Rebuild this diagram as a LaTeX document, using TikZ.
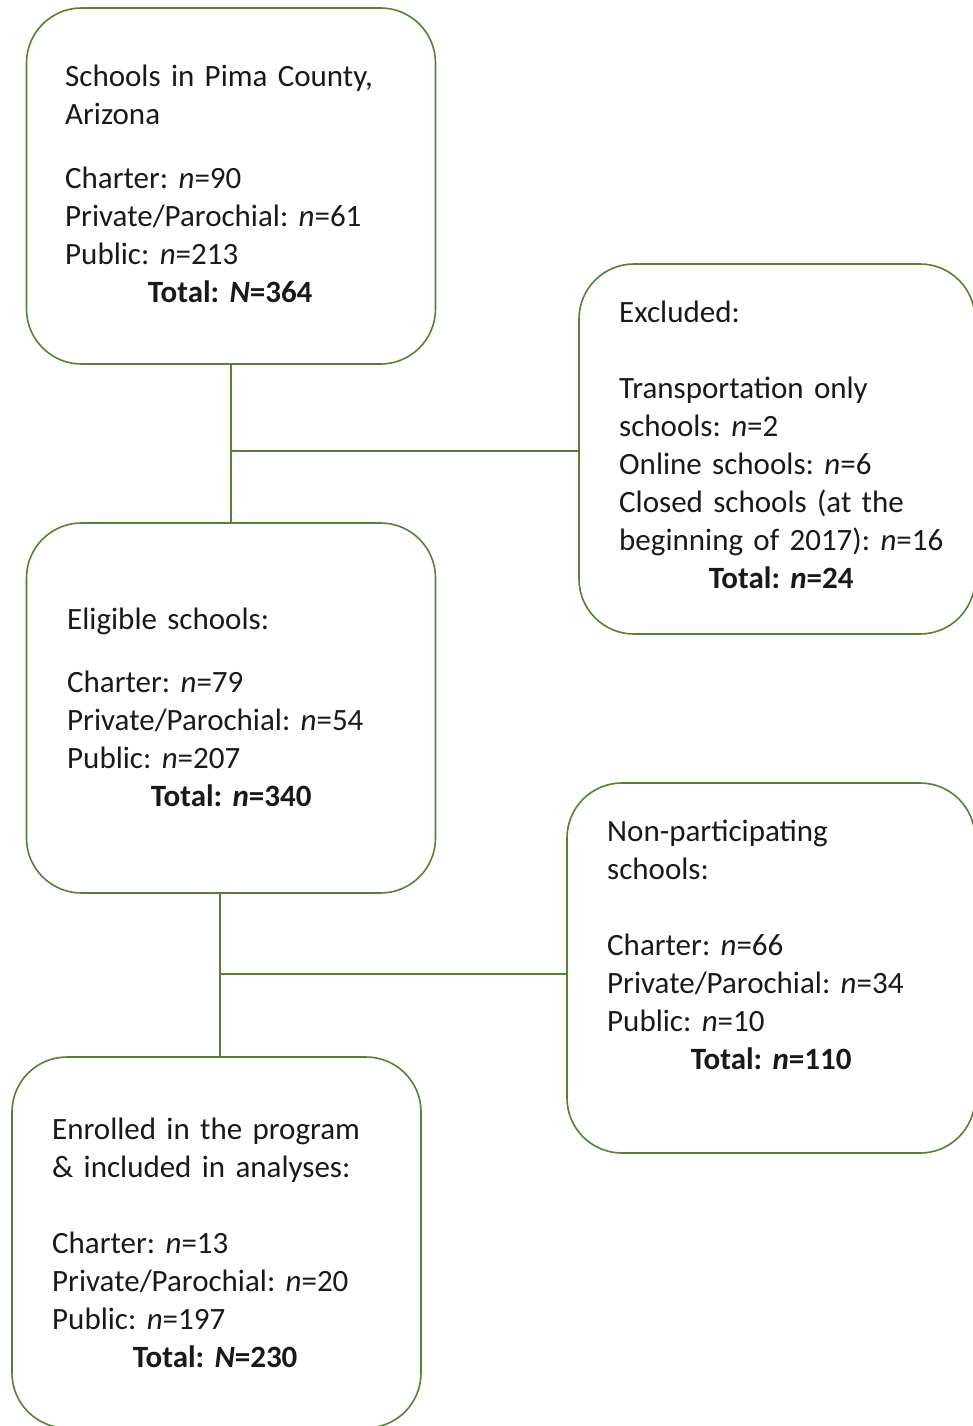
\documentclass[tikz,border=0pt]{standalone}
\usepackage{fontspec}
\setmainfont{Carlito}
\frenchspacing
\definecolor{boxgreen}{RGB}{84,130,53}
\definecolor{txt}{RGB}{25,25,25}
\newcommand\myboxfont{\fontsize{31}{38}\selectfont\frenchspacing\spaceskip=5.6pt\relax}
\begin{document}
\begin{tikzpicture}[x=1pt,y=-1pt,
  box/.style={draw=boxgreen, line width=1.6pt, rounded corners=55pt, inner sep=0pt},
  txtblock/.style={anchor=base west, inner sep=0pt, align=left, text=txt,
    font=\myboxfont},
  link/.style={draw=boxgreen, line width=1.8pt}]
\useasboundingbox (0,0) rectangle (973,1426);

\node[box, minimum width=409pt, minimum height=356pt] (b1) at (231,186) {};
\node[box, minimum width=396pt, minimum height=370pt] (b2) at (777,449) {};
\node[box, minimum width=409pt, minimum height=370pt] (b3) at (231,708) {};
\node[box, minimum width=408pt, minimum height=370pt] (b4) at (771,968) {};
\node[box, minimum width=409pt, minimum height=371pt] (b5) at (216.5,1242.5) {};

\node[txtblock, text width=330pt] (t1) at (65,87) {Schools in Pima County,\\ Arizona\\[26pt]
Charter: \textit{n}=90\\ Private/Parochial: \textit{n}=61\\ Public: \textit{n}=213\\
\hfill\textbf{Total: \textit{N}=364}\hfill\null};

\node[txtblock, text width=324pt] (t2) at (619,322) {Excluded:\\[38pt]
Transportation only\\ schools: \textit{n}=2\\ Online schools: \textit{n}=6\\
Closed schools (at the\\ \mbox{beginning of 2017): \textit{n}=16}\\
\hfill\textbf{Total: \textit{n}=24}\hfill\null};

\node[txtblock, text width=328pt] (t3) at (67,629) {Eligible schools:\\[25pt]
Charter: \textit{n}=79\\ Private/Parochial: \textit{n}=54\\ Public: \textit{n}=207\\
\hfill\textbf{Total: \textit{n}=340}\hfill\null};

\node[txtblock, text width=328pt] (t4) at (607,841) {Non-participating\\ schools:\\[38pt]
Charter: \textit{n}=66\\ Private/Parochial: \textit{n}=34\\ Public: \textit{n}=10\\
\hfill\textbf{Total: \textit{n}=110}\hfill\null};

\node[txtblock, text width=326pt] (t5) at (52,1139) {Enrolled in the program\\ \& included in analyses:\\[38pt]
Charter: \textit{n}=13\\ Private/Parochial: \textit{n}=20\\ Public: \textit{n}=197\\
\hfill\textbf{Total: \textit{N}=230}\hfill\null};

\coordinate (j1) at (231,451);
\coordinate (j2) at (220,974);
\draw[link] (b1.south) -- (b3.north);
\draw[link] (j1) -- (j1 -| b2.west);
\draw[link] (j2 |- b3.south) -- (j2 |- b5.north);
\draw[link] (j2) -- (j2 -| b4.west);
\end{tikzpicture}
\end{document}
